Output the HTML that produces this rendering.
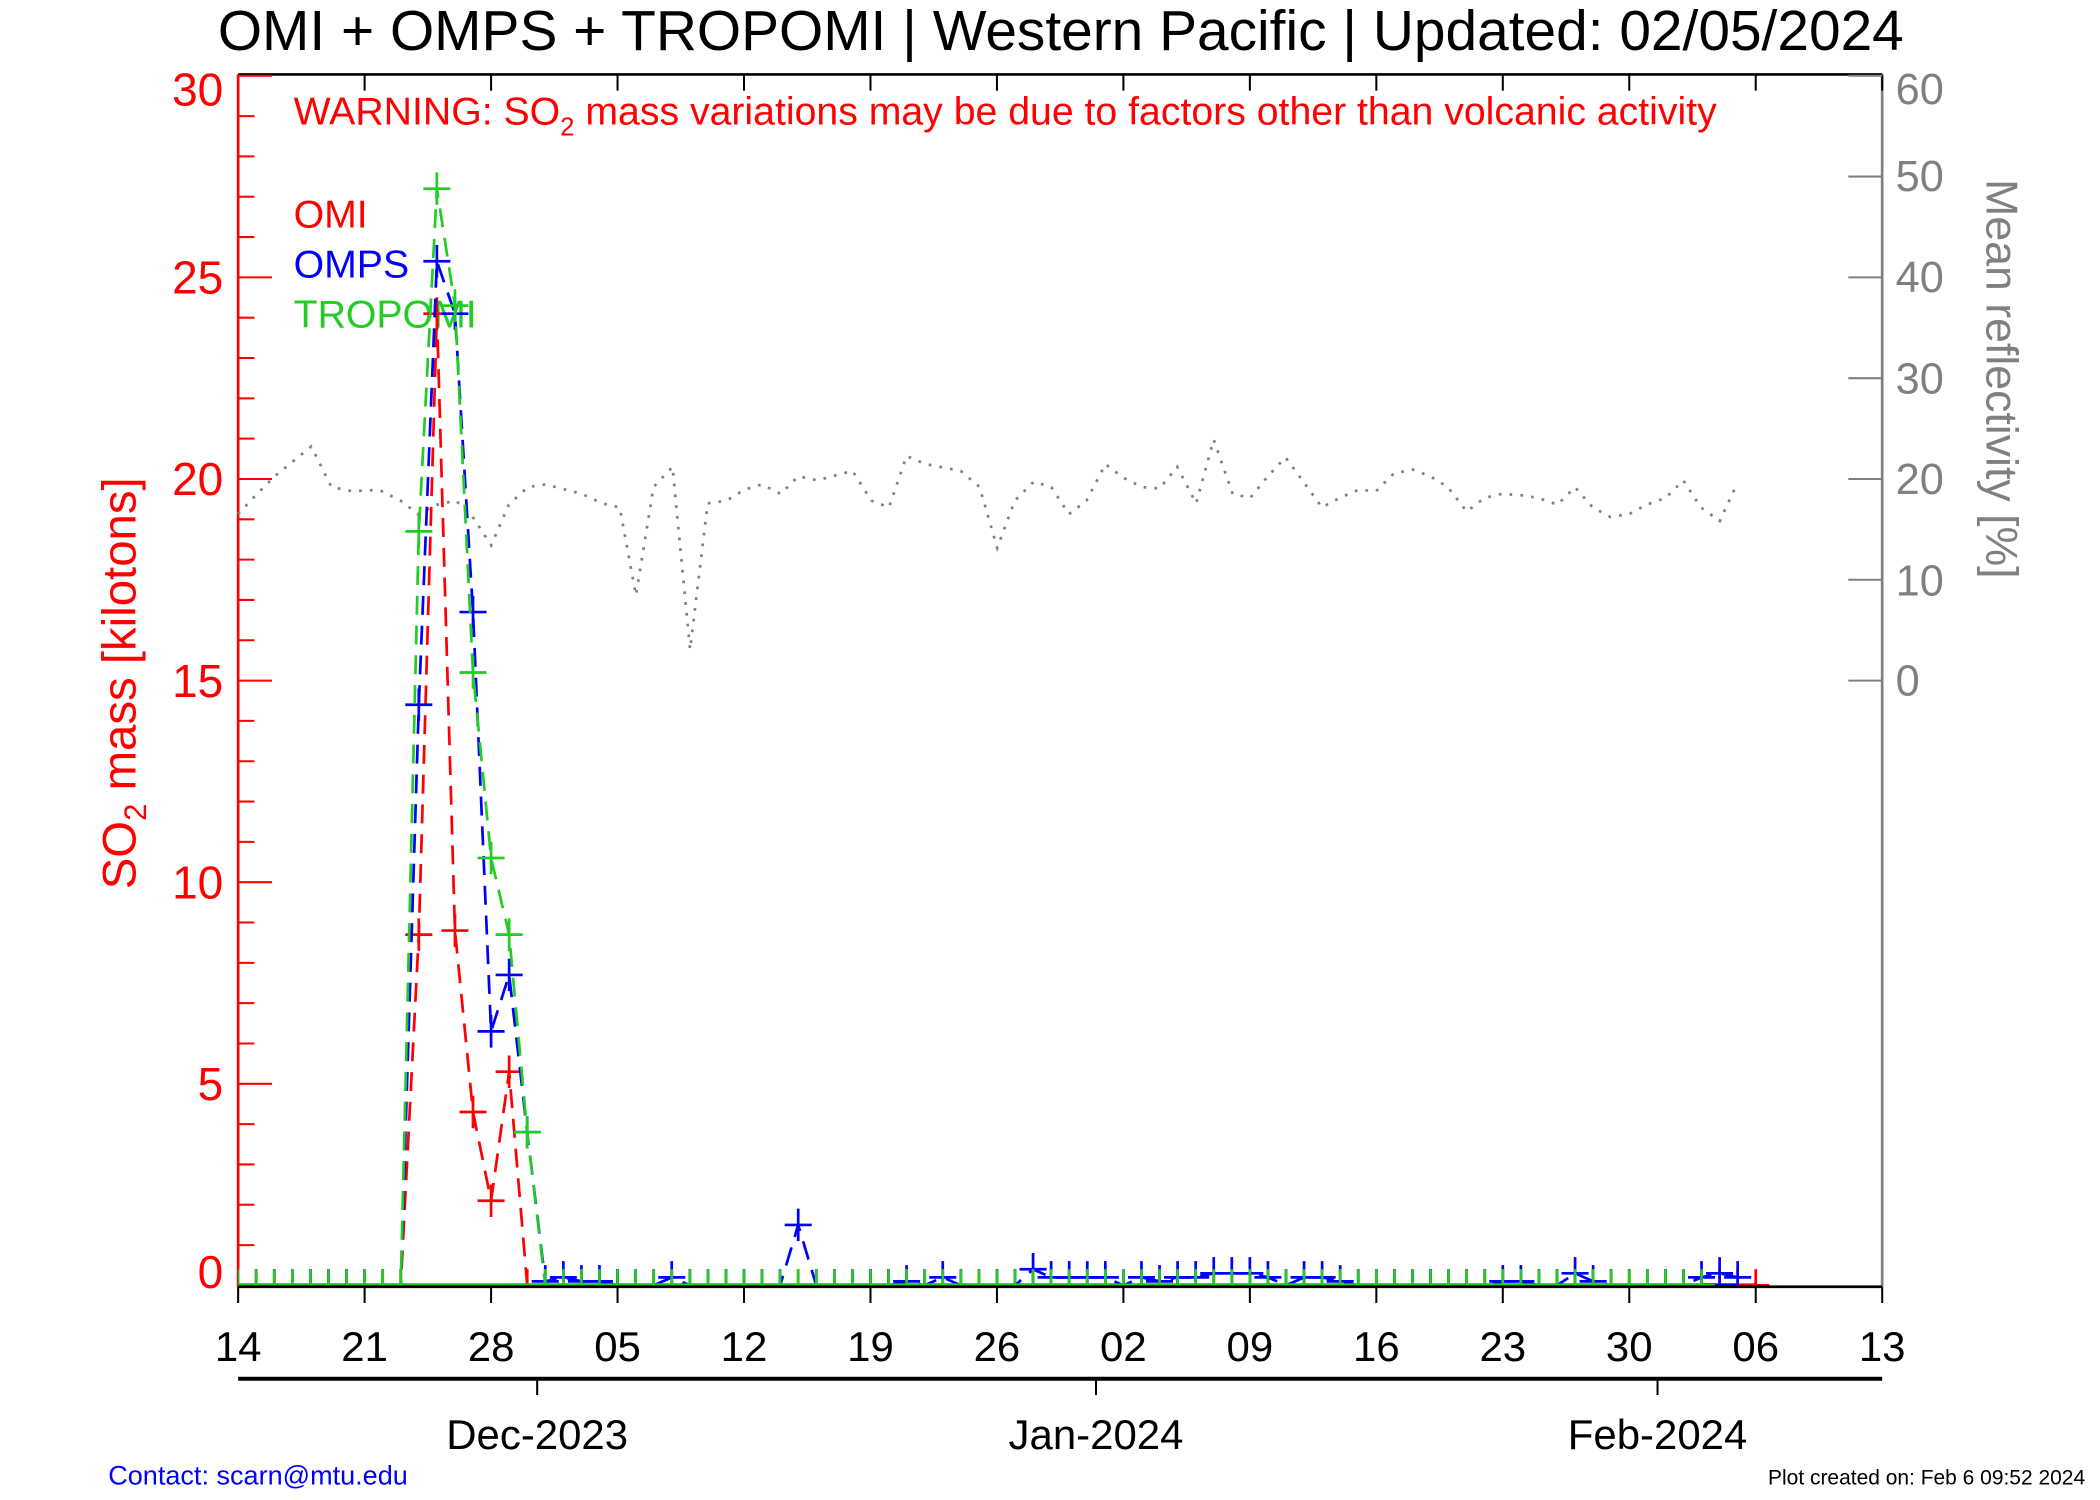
<!DOCTYPE html>
<html><head><meta charset="utf-8"><style>
html,body{margin:0;padding:0;background:#fff;width:2100px;height:1500px;overflow:hidden}
svg{display:block}
text{font-family:"Liberation Sans",Arial,sans-serif}
</style></head><body>
<svg id="s" width="2100" height="1500" viewBox="0 0 1552 1108.6" preserveAspectRatio="none" xmlns="http://www.w3.org/2000/svg">
<defs><clipPath id="c"><rect x="176" y="40" width="1215" height="911"/></clipPath></defs>
<text x="784" y="37" font-size="42" text-anchor="middle" fill="#000" textLength="1246" lengthAdjust="spacingAndGlyphs">OMI + OMPS + TROPOMI | Western Pacific | Updated: 02/05/2024</text>
<text x="217" y="92" font-size="29" fill="#f00">WARNING: SO<tspan font-size="19" dy="8">2</tspan><tspan dy="-8"> mass variations may be due to factors other than volcanic activity</tspan></text>
<text x="217" y="168" font-size="29" fill="#f00">OMI</text>
<text x="217" y="205" font-size="29" fill="#00f">OMPS</text>
<text x="217" y="242" font-size="29" fill="#2c2">TROPOMI</text>
<g font-size="34" fill="#f00" text-anchor="end">
<text x="165" y="78">30</text><text x="165" y="217">25</text><text x="165" y="366">20</text><text x="165" y="515">15</text><text x="165" y="664">10</text><text x="165" y="813">5</text><text x="165" y="952">0</text>
</g>
<g font-size="32" fill="#808080">
<text x="1401" y="77">60</text><text x="1401" y="141">50</text><text x="1401" y="216">40</text><text x="1401" y="291">30</text><text x="1401" y="365">20</text><text x="1401" y="440">10</text><text x="1401" y="514">0</text>
</g>
<text transform="translate(100,505) rotate(-90)" font-size="35" fill="#f00" text-anchor="middle">SO<tspan font-size="23" dy="8">2</tspan><tspan dy="-8"> mass [kilotons]</tspan></text>
<text transform="translate(1468,280) rotate(90)" font-size="33" fill="#808080" text-anchor="middle">Mean reflectivity [%]</text>
<g font-size="31" fill="#000" text-anchor="middle" id="xl"></g>
<g font-size="31" fill="#000" text-anchor="middle">
<text x="397" y="1071">Dec-2023</text><text x="810" y="1071">Jan-2024</text><text x="1225" y="1071">Feb-2024</text>
</g>
<text x="80" y="1097" font-size="20" fill="#00f">Contact: scarn@mtu.edu</text>
<text x="1541" y="1097" font-size="15.5" fill="#000" text-anchor="end">Plot created on: Feb  6 09:52 2024</text>
<g id="g"></g>
</svg>
<script>
var NS="http://www.w3.org/2000/svg",g=document.getElementById('g');
function el(t,a,p){var e=document.createElementNS(NS,t);for(var k in a)e.setAttribute(k,a[k]);(p||g).appendChild(e);return e}
var X=function(d){return 176+13.352*d},Y=function(v){return 950-29.8*v};
el('line',{x1:176,y1:55,x2:1391,y2:55,stroke:'#000','stroke-width':2});
el('line',{x1:1391,y1:55,x2:1391,y2:951,stroke:'#808080','stroke-width':2});
for(var i=0;i<=13;i++){var x=X(i*7);el('line',{x1:x,y1:55,x2:x,y2:67,stroke:'#000','stroke-width':1.5});el('line',{x1:x,y1:951,x2:x,y2:963,stroke:'#000','stroke-width':1.5});}
el('line',{x1:176,y1:1019,x2:1391,y2:1019,stroke:'#000','stroke-width':3});
[397,810,1225].forEach(function(x){el('line',{x1:x,y1:1019,x2:x,y2:1031,stroke:'#000','stroke-width':1.5})});
for(var v=0;v<=60;v+=10){var y=503-7.45*v;el('line',{x1:1366,y1:y,x2:1391,y2:y,stroke:'#808080','stroke-width':1.5});}
for(var v=0;v<=30;v++){var y=Y(v);el('line',{x1:176,y1:y,x2:176+(v%5?12:25),y2:y,stroke:'#f00','stroke-width':1.5});}
el('line',{x1:176,y1:55,x2:176,y2:951,stroke:'#f00','stroke-width':2});
var R=[[176,380],[190,365],[203,352],[230,330],[245,360],[260,363],[280,362],[296,370],[309,380],[323,373],[337,370],[350,383],[363,403],[376,373],[390,360],[403,358],[430,365],[445,372],[458,375],[470,440],[483,360],[497,345],[510,480],[523,372],[537,370],[550,362],[563,358],[577,365],[590,352],[604,355],[630,348],[644,370],[657,375],[670,337],[684,343],[710,348],[724,360],[737,405],[750,370],[764,356],[777,360],[790,380],[803,370],[817,343],[830,353],[844,360],[857,361],[870,345],[884,372],[897,325],[911,365],[924,368],[937,352],[950,338],[964,357],[977,375],[990,368],[1004,362],[1017,363],[1030,350],[1044,347],[1057,352],[1070,360],[1084,378],[1097,368],[1110,365],[1124,366],[1137,368],[1151,373],[1164,360],[1177,375],[1190,382],[1204,380],[1217,373],[1231,368],[1244,355],[1257,375],[1271,385],[1284,357]];
el('polyline',{points:R.map(function(p){return p.join(',')}).join(' '),fill:'none',stroke:'#808080','stroke-width':2,'stroke-dasharray':'2,6'});
var cg=el('g',{'clip-path':'url(#c)'});
function series(vals,col,start,end){
  var pts=[];for(var d=start;d<=end;d++){var v=vals[d]||0;pts.push([X(d),Y(v)]);}
  el('polyline',{points:pts.map(function(p){return p.join(',')}).join(' '),fill:'none',stroke:col,'stroke-width':2,'stroke-dasharray':'14,8'},cg);
  pts.forEach(function(p){el('path',{d:'M'+(p[0]-10)+','+p[1]+'h20M'+p[0]+','+(p[1]-12)+'v24',stroke:col,'stroke-width':2,fill:'none'},cg)});
  el('line',{x1:X(start),y1:950,x2:X(end),y2:950,stroke:col,'stroke-width':3},cg);
}
var omi={9:0,10:8.7,11:24.1,12:8.8,13:4.3,14:2.1,15:5.3,16:0};
var omps={10:14.4,11:25.4,12:24.1,13:16.7,14:6.3,15:7.7,16:3.8,17:0.1,18:0.2,19:0.1,20:0.1,24:0.2,31:1.5,37:0.1,39:0.2,44:0.4,45:0.2,46:0.2,47:0.2,48:0.2,50:0.2,51:0.1,52:0.2,53:0.2,54:0.3,55:0.3,56:0.3,57:0.2,59:0.2,60:0.2,61:0.1,70:0.1,71:0.1,74:0.3,75:0.1,81:0.2,82:0.3,83:0.2};
var tro={10:18.7,11:27.2,12:24.3,13:15.2,14:10.6,15:8.7,16:3.8,17:0};
series(omi,'#f00',0,84);
series(omps,'#00f',0,83);
series(tro,'#2c2',0,81);
el('line',{x1:176,y1:951,x2:1391,y2:951,stroke:'#000','stroke-width':2});
var labs=['14','21','28','05','12','19','26','02','09','16','23','30','06','13'],xl=document.getElementById('xl');
labs.forEach(function(t,i){var e=el('text',{x:X(i*7),y:1006},xl);e.textContent=t;});
</script>
</body></html>
